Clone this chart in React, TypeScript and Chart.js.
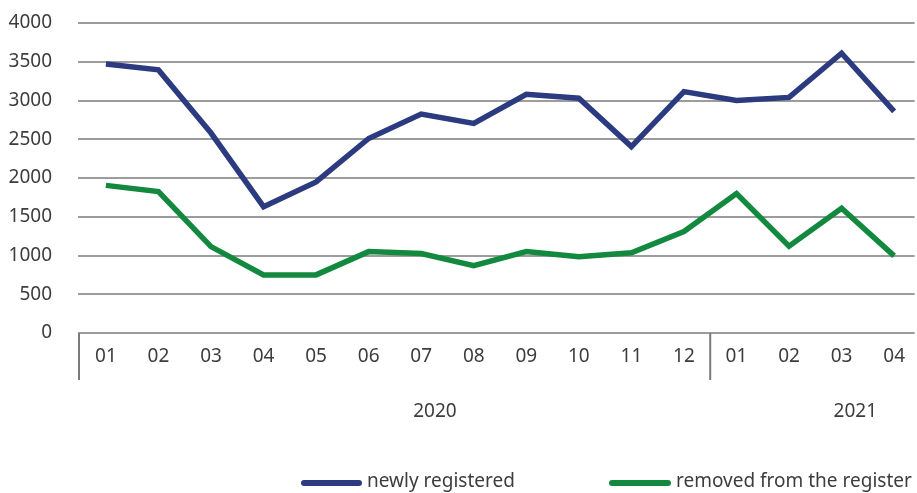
import React, { useEffect, useRef } from "react";
import { Chart, registerables } from "chart.js";

Chart.register(...registerables);

const monthLabels = ["01", "02", "03", "04", "05", "06", "07", "08", "09", "10", "11", "12", "01", "02", "03", "04"];
const yearLabels = ["2020", "2021"];
const yearStarts = [0, 12];
const yearEnds = [11, 15];

const newlyRegistered = [3470, 3395, 2580, 1630, 1950, 2510, 2825, 2705, 3080, 3030, 2405, 3115, 3000, 3040, 3610, 2860];
const removedFromRegister = [1905, 1825, 1115, 750, 750, 1050, 1025, 870, 1050, 985, 1035, 1310, 1800, 1120, 1610, 995];

const seriesNames = ["newly registered", "removed from the register"];
const seriesColors = ["#2c3a7f", "#12893f"];

const FONT = "'Noto Sans', 'DejaVu Sans', sans-serif";
const TEXT = "#3d3d3d";

const decorPlugin = {
  id: "decor",
  afterDraw(chart: any) {
    const ctx = chart.ctx;
    const xs = chart.scales.x;
    const area = chart.chartArea;
    ctx.save();
    // vertical separators
    ctx.strokeStyle = "#7a7a7a";
    ctx.lineWidth = 2;
    const seps = [area.left + 1];
    for (let g = 1; g < yearStarts.length; g++) {
      seps.push(xs.getPixelForValue((yearEnds[g - 1] + yearStarts[g]) / 2));
    }
    seps.forEach((sx) => {
      ctx.beginPath();
      ctx.moveTo(sx, area.bottom);
      ctx.lineTo(sx, area.bottom + 47);
      ctx.stroke();
    });
    // year labels
    ctx.fillStyle = TEXT;
    ctx.font = `19px ${FONT}`;
    ctx.textAlign = "center";
    ctx.textBaseline = "middle";
    yearLabels.forEach((lab, g) => {
      const cx = xs.getPixelForValue((yearStarts[g] + yearEnds[g]) / 2) + 40;
      ctx.fillText(lab, cx, area.bottom + 79);
    });
    // legend
    const legendPos = [
      { x1: 304, x2: 359, tx: 367 },
      { x1: 612, x2: 668, tx: 676 },
    ];
    const ly = 483;
    ctx.textAlign = "left";
    chart.data.datasets.forEach((ds: any, i: number) => {
      const p = legendPos[i];
      ctx.strokeStyle = ds.borderColor;
      ctx.lineWidth = 6;
      ctx.lineCap = "round";
      ctx.beginPath();
      ctx.moveTo(p.x1, ly);
      ctx.lineTo(p.x2, ly);
      ctx.stroke();
      ctx.fillStyle = TEXT;
      ctx.fillText(ds.label, p.tx, ly - 1);
    });
    ctx.restore();
  },
};

export default function App() {
  const ref = useRef<HTMLCanvasElement | null>(null);
  useEffect(() => {
    if (!ref.current) return;
    Chart.defaults.font.family = FONT;
    const series = [newlyRegistered, removedFromRegister];
    const chart = new Chart(ref.current, {
      type: "line",
      data: {
        datasets: series.map((vals, i) => ({
          label: seriesNames[i],
          data: vals.map((v, j) => ({ x: j, y: v })),
          borderColor: seriesColors[i],
          backgroundColor: seriesColors[i],
          borderWidth: 5.5,
          pointRadius: 0,
          tension: 0,
          borderJoinStyle: "miter" as const,
          clip: false as any,
        })),
      },
      options: {
        animation: false,
        responsive: false,
        layout: { padding: { top: 23, right: 0, left: 0, bottom: 0 } },
        plugins: { legend: { display: false }, tooltip: { enabled: false } },
        scales: {
          x: {
            type: "linear",
            min: -0.531,
            max: 15.389,
            afterFit: (s: any) => {
              s.height = 160;
            },
            grid: { display: false, drawTicks: false },
            border: { display: false },
            ticks: {
              stepSize: 1,
              includeBounds: false,
              autoSkip: false,
              maxRotation: 0,
              padding: 12,
              color: TEXT,
              font: { size: 19, family: FONT },
              callback: (v: any) => {
                const n = Number(v);
                return Number.isInteger(n) && n >= 0 && n < monthLabels.length ? monthLabels[n] : "";
              },
            },
          },
          y: {
            min: 0,
            max: 4000,
            afterFit: (s: any) => {
              s.width = 78;
              s.paddingTop = 0;
              s.paddingBottom = 0;
            },
            grid: { color: "#9c9c9c", lineWidth: 2, drawTicks: false },
            border: { display: false },
            ticks: {
              stepSize: 500,
              padding: 26,
              color: TEXT,
              font: { size: 19, family: FONT },
              callback: (v: any) => String(v),
            },
          },
        },
      },
      plugins: [decorPlugin],
    });
    return () => chart.destroy();
  }, []);
  return (
    <div style={{ position: "fixed", left: 0, top: 0, width: 917, height: 493, background: "#fff" }}>
      <canvas ref={ref} width={917} height={493} style={{ width: 917, height: 493 }} />
    </div>
  );
}
